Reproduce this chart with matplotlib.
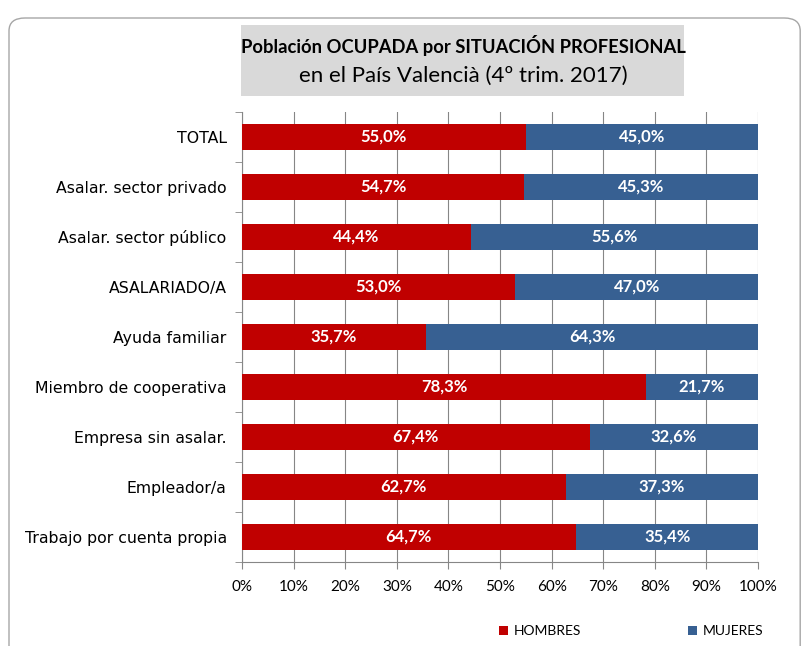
import matplotlib.pyplot as plt
from matplotlib.patches import FancyBboxPatch, Rectangle
import numpy as np

plt.rcParams['font.family'] = ['Lato', 'DejaVu Sans']

categorias = ["TOTAL", "Asalar. sector privado", "Asalar. sector público", "ASALARIADO/A",
              "Ayuda familiar", "Miembro de cooperativa", "Empresa sin asalar.",
              "Empleador/a", "Trabajo por cuenta propia"]
hombres = [55.0, 54.7, 44.4, 53.0, 35.7, 78.3, 67.4, 62.7, 64.7]
mujeres = [45.0, 45.3, 55.6, 47.0, 64.3, 21.7, 32.6, 37.3, 35.4]

rojo = '#c00000'
azul = '#376092'

fig = plt.figure(figsize=(8.01, 6.46), dpi=100)
W, H = 801, 646
ax = fig.add_axes([242 / W, 1 - 562 / H, 516 / W, 450 / H])

# marco exterior redondeado
fig.patches.append(FancyBboxPatch((9 / W, -0.05), 0.999 - 9 / W, 1 - 18 / H + 0.05,
                                  boxstyle="round,pad=0,rounding_size=0.02",
                                  transform=fig.transFigure, fill=False,
                                  edgecolor='#a6a6a6', linewidth=1.0))

y = np.arange(len(categorias))
ax.barh(y, hombres, height=0.52, color=rojo, zorder=3)
ax.barh(y, mujeres, left=hombres, height=0.52, color=azul, zorder=3)

for i in range(len(categorias)):
    ax.text(hombres[i] / 2, y[i], f"{hombres[i]:.1f}%".replace('.', ','), ha='center', va='center',
            color='white', fontsize=12, fontweight='bold', zorder=4)
    ax.text(hombres[i] + mujeres[i] / 2, y[i], f"{mujeres[i]:.1f}%".replace('.', ','), ha='center',
            va='center', color='white', fontsize=12, fontweight='bold', zorder=4)

ax.set_ylim(len(categorias) - 0.5, -0.5)
ax.set_xlim(0, 100)
ax.set_xticks(np.arange(0, 101, 10))
ax.set_xticklabels([f"{v}%" for v in range(0, 101, 10)], fontsize=11)
ax.set_yticks(y)
ax.set_yticklabels(categorias, fontsize=11.3, family=['DejaVu Sans'])
ax.set_yticks(np.arange(-0.5, len(categorias), 1), minor=True)
ax.tick_params(axis='y', which='major', length=0, pad=11)
ax.tick_params(axis='y', which='minor', length=5, color='#868686')
ax.tick_params(axis='x', length=5, color='#868686', pad=8)
ax.grid(axis='x', color='#868686', linewidth=0.8, zorder=0)
for s in ['top', 'right']:
    ax.spines[s].set_visible(False)
ax.spines['left'].set_color('#868686')
ax.spines['bottom'].set_color('#868686')

# titulo con fondo gris
fig.patches.append(Rectangle((241 / W, 1 - 96 / H), 443 / W, 71 / H, transform=fig.transFigure,
                             facecolor='#d9d9d9', edgecolor='none'))
fig.text(463 / W, 1 - 45 / H, "Población OCUPADA por SITUACIÓN PROFESIONAL", ha='center', va='center',
         fontsize=13.2, fontweight='bold')
fig.text(463 / W, 1 - 76 / H, "en el País Valencià (4º trim. 2017)", ha='center', va='center',
         fontsize=16)

# leyenda
fig.patches.append(Rectangle((499 / W, 1 - 635 / H), 9 / W, 9 / H, transform=fig.transFigure,
                             facecolor=rojo, edgecolor='none'))
fig.text(514 / W, 1 - 631 / H, "HOMBRES", ha='left', va='center', fontsize=10)
fig.patches.append(Rectangle((688 / W, 1 - 635 / H), 9 / W, 9 / H, transform=fig.transFigure,
                             facecolor=azul, edgecolor='none'))
fig.text(703 / W, 1 - 631 / H, "MUJERES", ha='left', va='center', fontsize=10)

fig.savefig("out.png", dpi=100)
